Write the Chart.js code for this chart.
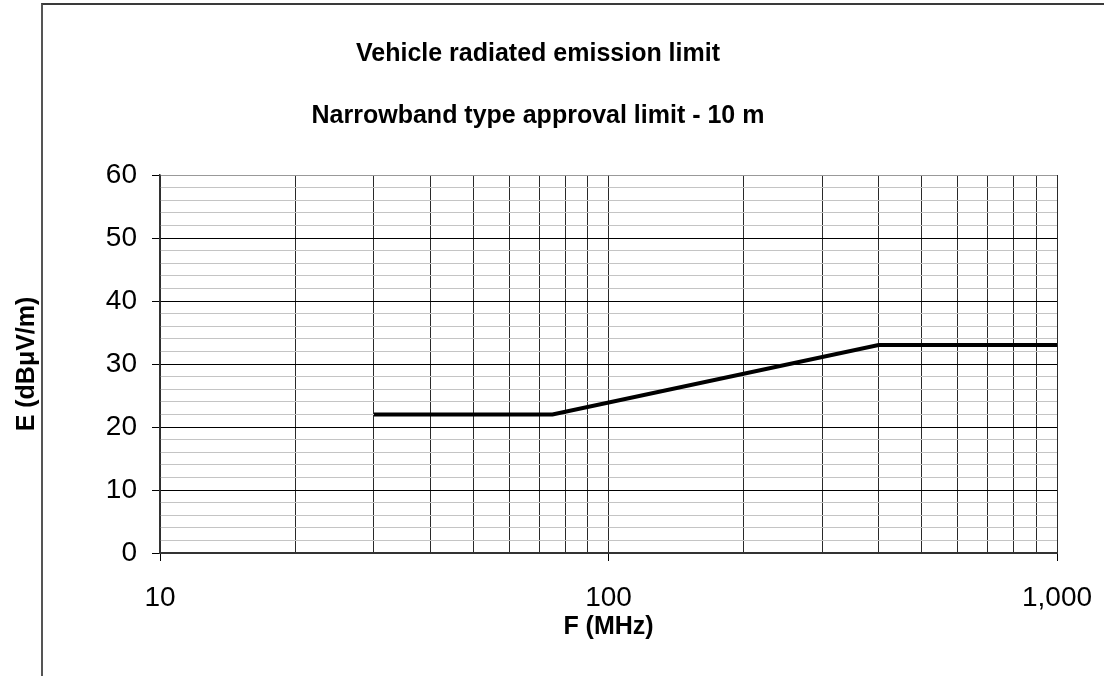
<!DOCTYPE html>
<html>
<head>
<meta charset="utf-8">
<script src="https://cdn.jsdelivr.net/npm/chart.js@4/dist/chart.umd.min.js"></script>
<style>
  body { margin: 0; overflow: hidden; background: #fff; }
  #frame { position: absolute; left: 41px; top: 3px; width: 1200px; height: 800px;
           border-top: 2px solid #3a3a3a; border-left: 2px solid #555; }
  #chart { position: absolute; left: 0; top: 0; }
</style>
</head>
<body>
<div id="frame"></div>
<canvas id="chart" width="1104" height="676"></canvas>
<script>
// limit line (frequency in MHz, field strength in dBµV/m)
var freqMHz = [30, 75, 400, 1000];
var limitDb = [22, 22, 33, 33];

// axis ticks
var xTickValues = [10, 20, 30, 40, 50, 60, 70, 80, 90,
                   100, 200, 300, 400, 500, 600, 700, 800, 900, 1000];
var xLabelValues = [10, 100, 1000];
var yMin = 0, yMax = 60, yStep = 2, yLabelStep = 10;

var points = freqMHz.map(function (f, i) { return { x: f, y: limitDb[i] }; });
var font = 'Arial, "Liberation Sans", sans-serif';

var ctx = document.getElementById('chart');

var myChart = new Chart(ctx, {
    type: 'line',
    data: {
        datasets: [{
            label: 'Narrowband limit',
            data: points,
            borderColor: '#000',
            borderWidth: 4,
            pointRadius: 0,
            tension: 0,
            fill: false
        }]
    },
    options: {
        responsive: false,
        animation: false,
        layout: { padding: { left: 19, right: 47, top: 0, bottom: 0 } },
        plugins: {
            legend: { display: false },
            tooltip: { enabled: false },
            title: {
                display: true,
                text: 'Vehicle radiated emission limit',
                color: '#000',
                font: { family: font, size: 25, weight: 'bold', lineHeight: 1.2 },
                padding: { top: 39.5, bottom: 0 }
            },
            subtitle: {
                display: true,
                text: 'Narrowband type approval limit - 10 m',
                color: '#000',
                font: { family: font, size: 25, weight: 'bold', lineHeight: 1.2 },
                padding: { top: 32, bottom: 43.5 }
            }
        },
        scales: {
            x: {
                type: 'logarithmic',
                min: 10,
                max: 1000,
                afterBuildTicks: function (scale) {
                    scale.ticks = xTickValues.map(function (v) { return { value: v }; });
                },
                afterFit: function (scale) {
                    scale.height = 123;
                    scale.paddingLeft = 0;
                    scale.paddingRight = 0;
                },
                ticks: {
                    autoSkip: false,
                    maxRotation: 0,
                    padding: 20,
                    color: '#000',
                    font: { family: font, size: 28 },
                    callback: function (v) {
                        return xLabelValues.indexOf(v) >= 0 ? v.toLocaleString('en-US') : '';
                    }
                },
                grid: {
                    color: '#2a2a2a',
                    lineWidth: 1,
                    tickLength: 8,
                    tickColor: function (c) {
                        return xLabelValues.indexOf(c.tick.value) >= 0 ? '#000' : 'rgba(0,0,0,0)';
                    }
                },
                border: { color: '#333', width: 2 },
                title: {
                    display: true,
                    text: 'F (MHz)',
                    color: '#000',
                    font: { family: font, size: 25, weight: 'bold', lineHeight: 1.2 },
                    padding: { top: 0, bottom: 34 }
                }
            },
            y: {
                z: -1,
                min: yMin,
                max: yMax,
                afterFit: function (scale) { scale.width = 141; },
                ticks: {
                    stepSize: yStep,
                    autoSkip: false,
                    padding: 15,
                    color: '#000',
                    font: { family: font, size: 28 },
                    callback: function (v) { return v % yLabelStep === 0 ? v : ''; }
                },
                grid: {
                    color: function (c) {
                        if (c.tick.value === yMax) return '#999';
                        return c.tick.value % yLabelStep === 0 ? '#000' : '#c4c4c4';
                    },
                    lineWidth: 1,
                    tickLength: 8,
                    tickColor: function (c) {
                        return c.tick.value % yLabelStep === 0 ? '#000' : 'rgba(0,0,0,0)';
                    }
                },
                border: { color: '#333', width: 1.5 },
                title: {
                    display: true,
                    text: 'E (dBμV/m)',
                    color: '#000',
                    font: { family: font, size: 25, weight: 'bold', lineHeight: 1.2 },
                    padding: { top: -7, bottom: 0 }
                }
            }
        }
    }
});
</script>
</body>
</html>
